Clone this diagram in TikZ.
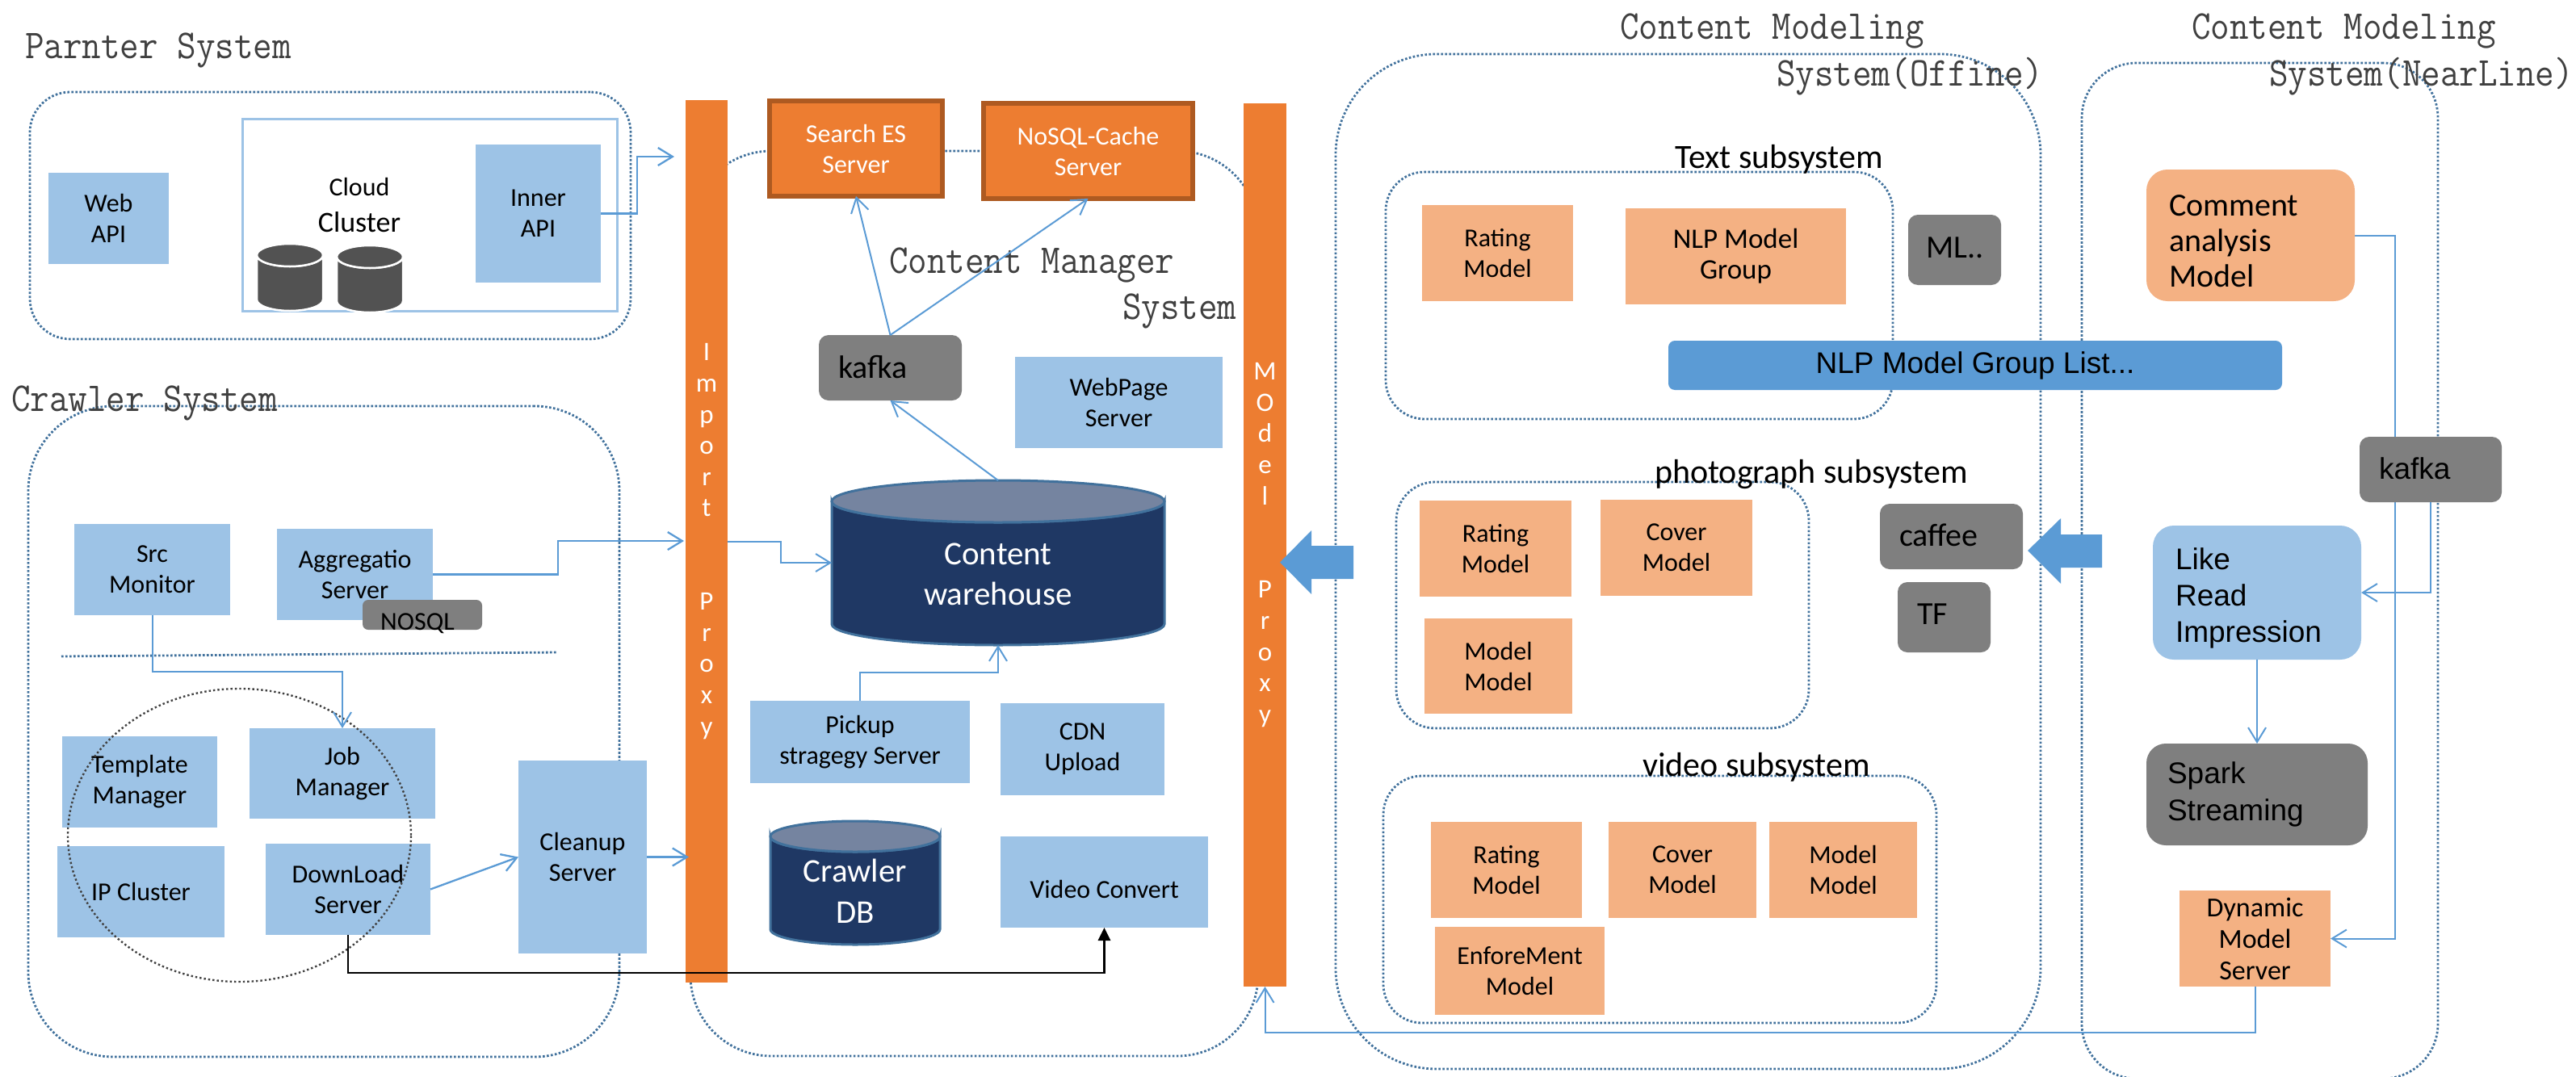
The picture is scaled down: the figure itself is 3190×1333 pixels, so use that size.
\documentclass[tikz,border=0pt]{standalone}
\usepackage{fontspec}
\setmainfont{Carlito}
\setmonofont[FakeStretch=0.9]{Latin Modern Mono}
\newfontfamily\arfont{Liberation Sans}
\usetikzlibrary{arrows.meta,shapes.geometric,backgrounds}
\definecolor{boxblue}{HTML}{9DC3E6}
\definecolor{peach}{HTML}{F4B183}
\definecolor{barorange}{HTML}{ED7D31}
\definecolor{darkorange}{HTML}{AE5A21}
\definecolor{boxgray}{HTML}{7F7F7F}
\definecolor{listblue}{HTML}{5B9BD5}
\definecolor{dotblue}{HTML}{41719C}
\definecolor{navy}{HTML}{1F3864}
\definecolor{navytop}{HTML}{7584A0}
\definecolor{cylgray}{HTML}{525252}
\definecolor{titlegray}{HTML}{404040}
\tikzset{
  base/.style={inner sep=0pt,outer sep=0pt,align=center,font=\fontsize{32}{38}\selectfont},
  blue box/.style={base,fill=boxblue},
  peach box/.style={base,fill=peach},
  orange box/.style={base,fill=barorange,draw=darkorange,line width=6pt,text=white},
  bar/.style={base,fill=barorange,text=white,font=\fontsize{33}{38.6}\selectfont},
  gray box/.style={base,fill=boxgray,rounded corners=12pt,align=left,font=\fontsize{40}{46}\selectfont},
  container/.style={inner sep=0pt,outer sep=0pt,draw=dotblue,line width=2.8pt,dash pattern=on 2.6pt off 2.4pt},
  sub title/.style={inner sep=0pt,font=\fontsize{42}{46}\selectfont},
  big title/.style={inner sep=0pt,anchor=west,align=left,text=titlegray,font=\ttfamily\fontsize{50.8}{57.5}\selectfont},
  conn/.style={draw=listblue,line width=2.3pt,-{Straight Barb[length=18pt,width=22pt,line width=2.3pt]}},
  conn thin/.style={conn,line width=2pt,-{Straight Barb[length=18pt,width=22pt,line width=2pt]}},
  black conn/.style={draw=black,line width=2.8pt,-{Triangle[length=16pt,width=15pt]}},
}
\newcommand{\bx}[7]{\node[#1,minimum width={#5-#3},minimum height={#6-#4}] (#2) at ({(#3+#5)/2},{(#4+#6)/2}) {#7};}
% x1 ytop x2 ybot ry body top line linewidth
\newcommand{\dbcyl}[9]{%
  \path[fill=#6,draw=#8,line width=#9] (#1,#2+#5) -- (#1,#4-#5)
    arc[start angle=180,end angle=0,x radius={(#3-#1)/2},y radius=#5] -- (#3,#2+#5)
    arc[start angle=0,end angle=180,x radius={(#3-#1)/2},y radius=#5] -- cycle;
  \path[fill=#7,draw=#8,line width=#9] ({(#1+#3)/2},#2+#5) ellipse[x radius={(#3-#1)/2},y radius=#5];}
\begin{document}
\begin{tikzpicture}[x=1pt,y=-1pt]
\useasboundingbox (0,0) rectangle (3190,1333);

% containers
\bx{container,rounded corners=50pt}{partner}{37}{114}{781}{420}{}
\bx{container,rounded corners=105pt}{crawler}{35}{503}{767}{1309}{}
\bx{container,rounded corners=100pt}{manager}{855}{187}{1558}{1308}{}
\bx{container,rounded corners=125pt}{offline}{1654}{67}{2527}{1324}{}
\bx{container,rounded corners=68pt}{nearline}{2578}{78}{3019}{1336}{}
\bx{container,rounded corners=48pt}{textsys}{1716}{213}{2344}{519}{}
\bx{container,rounded corners=48pt}{photosys}{1729}{597}{2240}{902}{}
\bx{container,rounded corners=48pt}{videosys}{1713}{961}{2398}{1267}{}

% titles
\node[big title] (ttlpartner) at (31,62) {Parnter System};
\node[big title] (ttlcrawler) at (14,499) {Crawler System};
\node[big title] (ttlmanager) at (1101,357) {Content Manager\\\hspace*{289pt}System};
\node[big title] (ttloffline) at (2006,67.5) {Content Modeling\\\hspace*{194pt}System(Offine)};
\node[big title] (ttlnear) at (2714,67.5) {Content Modeling\\\hspace*{96pt}System(NearLine)};

% partner system
\bx{blue box}{web}{60}{214}{209}{327}{Web\\API}
\bx{inner sep=0pt,outer sep=0pt,draw=boxblue,line width=3pt}{cloud}{300}{147}{764}{385}{}
\bx{blue box}{inner}{589}{179}{744}{350}{Inner\\API}
\node[base] (cloudlbl) at (445,232) {Cloud};
\node[base,font=\fontsize{36}{40}\selectfont] (clusterlbl) at (445,275) {Cluster};
\dbcyl{318}{302}{400}{385}{14}{cylgray}{cylgray}{white}{2.5pt}
\dbcyl{417}{304}{499}{387}{14}{cylgray}{cylgray}{white}{2.5pt}

% crawler system
\bx{blue box}{src}{92}{649}{285}{762}{Src\\Monitor}
\bx{blue box}{agg}{343}{655}{536}{768}{Aggregatio\\Server}
\bx{gray box,rounded corners=7pt,align=center,font=\fontsize{32}{38}\selectfont}{nosql}{449}{743}{597}{780}{\hspace*{-12pt}\smash{\raisebox{-18.5pt}{NOSQL}}}
\bx{blue box}{tmpl}{77}{912}{269}{1025}{Template\\Manager}
\bx{blue box}{job}{309}{902}{539}{1014}{Job\\Manager}
\bx{blue box}{ipc}{71}{1048}{278}{1161}{IP Cluster}
\bx{blue box}{dl}{329}{1045}{533}{1158}{DownLoad\\Server}
\bx{blue box}{clean}{642}{942}{801}{1181}{Cleanup\\Server}
\node[inner sep=0pt,outer sep=0pt,ellipse,draw=titlegray,line width=2.4pt,dash pattern=on 2.4pt off 3pt,minimum width=425pt,minimum height=363pt] (circle) at (296.5,1034.5) {};
\coordinate (sepa) at (76,813);
\coordinate (sepb) at (690,808);
\draw[draw=dotblue,line width=2.8pt,dash pattern=on 2.6pt off 2.4pt] (sepa) -- (sepb);

% content manager
\bx{orange box}{search}{953}{125}{1167}{243}{Search ES\\Server}
\bx{orange box}{nosqlc}{1218}{128}{1477}{246}{NoSQL-Cache\\Server}
\bx{gray box,text width=129pt}{kafkal}{1014}{415}{1191}{496}{\raisebox{3pt}{kafka}}
\bx{blue box}{webpage}{1257}{442}{1514}{555}{WebPage\\Server}
\dbcyl{1030}{595}{1442}{799}{26}{navy}{navytop}{dotblue}{3pt}
\bx{base,text=white,font=\fontsize{41}{50}\selectfont}{ware}{1030}{595}{1442}{799}{\\[6pt]Content\\warehouse}
\bx{blue box}{pickup}{929}{868}{1201}{970}{Pickup\\stragegy Server}
\bx{blue box}{cdn}{1239}{871}{1442}{985}{CDN\\Upload}
\dbcyl{954}{1017}{1164}{1170}{19}{navy}{navytop}{dotblue}{3pt}
\bx{base,text=white,font=\fontsize{41}{51}\selectfont}{crawldb}{954}{1017}{1164}{1170}{\\[-2pt]Crawler\\DB}
\bx{blue box}{video}{1239}{1036}{1496}{1149}{\smash{\raisebox{-20pt}{Video Convert}}}

% bars
\bx{bar}{import}{849}{124}{901}{1217}{I\\m\\p\\o\\r\\t\\~\\~\\P\\r\\o\\x\\y}
\bx{bar}{model}{1540}{128}{1593}{1222}{M\\O\\d\\e\\l\\~\\~\\P\\r\\o\\x\\y}

% offline
\node[sub title] (textlbl) at (2203,197) {Text subsystem};
\bx{peach box}{trate}{1761}{254}{1948}{373}{Rating\\Model}
\bx{peach box,font=\fontsize{35}{38}\selectfont}{nlp}{2013}{258}{2286}{377}{NLP Model\\Group}
\bx{gray box,text width=70pt}{ml}{2363}{266}{2478}{353}{\raisebox{6pt}{ML..}}
\bx{base,fill=listblue,rounded corners=8pt,font=\arfont\fontsize{37}{42}\selectfont}{list}{2066}{422}{2826}{483}{NLP Model Group List...}
\node[sub title] (photolbl) at (2243,588) {photograph subsystem};
\bx{peach box}{prate}{1758}{620}{1946}{739}{Rating\\Model}
\bx{peach box}{pcover}{1982}{619}{2170}{738}{Cover\\Model}
\bx{peach box}{pmodel}{1764}{766}{1947}{884}{Model\\Model}
\bx{gray box,text width=129pt}{caffee}{2328}{624}{2505}{705}{\raisebox{3pt}{caffee}}
\bx{gray box,text width=67pt}{tf}{2350}{721}{2465}{808}{\raisebox{7pt}{TF}}
\node[sub title] (videolbl) at (2175,950) {video subsystem};
\bx{peach box}{vrate}{1772}{1018}{1959}{1137}{Rating\\Model}
\bx{peach box}{vcover}{1992}{1018}{2175}{1137}{Cover\\Model}
\bx{peach box}{vmodel}{2191}{1018}{2374}{1137}{Model\\Model}
\bx{peach box}{venf}{1777}{1148}{1987}{1257}{EnforeMent\\Model}

% nearline
\bx{peach box,rounded corners=26pt,align=left,text width=202pt,font=\fontsize{40}{44}\selectfont}{comment}{2658}{210}{2916}{373}{\rule{0pt}{40pt}Comment\\analysis\\Model}
\bx{gray box,text width=128pt,font=\arfont\fontsize{37}{42}\selectfont}{kafkar}{2922}{541}{3098}{622}{\raisebox{2pt}{kafka}}
\bx{blue box,rounded corners=26pt,align=left,text width=202pt,font=\arfont\fontsize{37}{45}\selectfont}{like}{2666}{651}{2924}{817}{\rule{0pt}{41pt}Like\\Read\\Impression}
\bx{gray box,rounded corners=24pt,text width=222pt,font=\arfont\fontsize{37}{46}\selectfont}{spark}{2658}{921}{2932}{1047}{Spark\\Streaming}
\bx{peach box,font=\fontsize{34}{39}\selectfont}{dyn}{2699}{1103}{2886}{1222}{Dynamic\\Model\\Server}

% block arrows
\fill[listblue] (1585,696.5) -- (1624,657) -- (1624,676) -- (1676,676) -- (1676,717) -- (1624,717) -- (1624,736) -- cycle;
\fill[listblue] (2511,682) -- (2552,642) -- (2552,662) -- (2603,662) -- (2603,703) -- (2552,703) -- (2552,723) -- cycle;

% free connector ends
\coordinate (impa) at (835,194);
\coordinate (impb) at (847,670);
\coordinate (impc) at (853,1061.5);

% connectors
\draw[conn] (inner.east) -- (789,264.5) |- (impa);
\draw[conn] (agg.east) -- (691,711.5) |- (impb);
\draw[conn thin] (import.east) -- (967,670.5) |- (ware.west);
\draw[conn thin] (src.south) -- (188.5,832) -| (job.north);
\draw[conn] (dl.east) -- (clean.west);
\draw[conn] (clean.east) -- (impc);
\draw[black conn] (dl.south) -- (431,1205) -| (video.south);
\draw[conn thin] (kafkal.north) -- (search.south);
\draw[conn thin] (kafkal.north) -- (nosqlc.south);
\draw[conn thin] (ware.north) -- (kafkal.south);
\draw[conn thin] (pickup.north) -- (1065,833) -| (ware.south);
\begin{pgfonlayer}{background}
\draw[conn thin] (comment.east) -- (2966,291.5) |- (dyn.east);
\end{pgfonlayer}
\draw[conn thin] (kafkar.south) |- (like.east);
\draw[conn thin] (like.south) -- (spark.north);
\draw[conn thin] (dyn.south) -- (2792.5,1279) -| (model.south);
\end{tikzpicture}
\end{document}
